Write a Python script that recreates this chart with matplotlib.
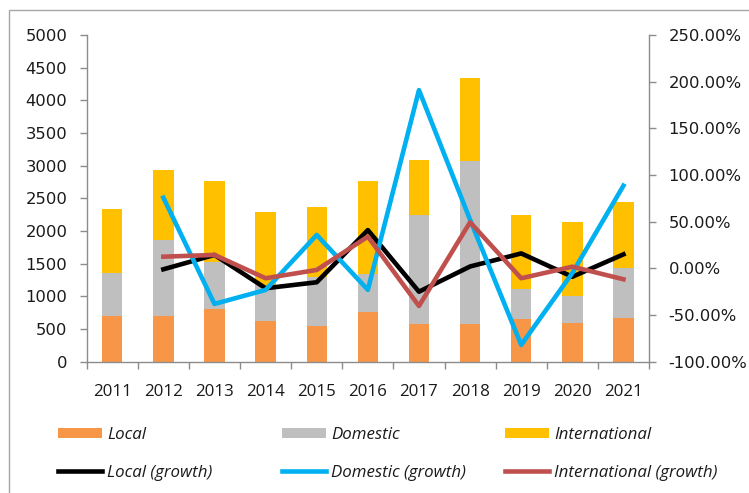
import numpy as np
import matplotlib
matplotlib.use("Agg")
import matplotlib.pyplot as plt
from matplotlib.patches import Rectangle
from matplotlib.ticker import FuncFormatter, FixedLocator, NullFormatter

years = ["2011", "2012", "2013", "2014", "2015", "2016", "2017", "2018", "2019", "2020", "2021"]
local = [700, 700, 800, 620, 540, 760, 570, 570, 650, 590, 670]
domestic = [660, 1160, 720, 550, 750, 580, 1670, 2500, 460, 410, 770]
international = [970, 1080, 1240, 1120, 1070, 1420, 850, 1270, 1130, 1140, 1010]

# growth in %, first year has no value
local_growth = [np.nan, -1.0, 14.4, -21.3, -14.9, 41.0, -25.0, 2.0, 16.0, -9.0, 15.0]
domestic_growth = [np.nan, 75.7, -38.1, -23.1, 35.8, -23.0, 191.0, 52.0, -82.0, -5.0, 88.6]
international_growth = [np.nan, 12.5, 14.4, -10.6, -1.7, 34.0, -40.3, 49.4, -10.6, 1.8, -11.7]

C_LOCAL = "#F79646"
C_DOM = "#BFBFBF"
C_INT = "#FFC000"
C_LG = "#000000"
C_DG = "#00B0F0"
C_IG = "#C0504D"
AXC = "#8C8C8C"
TXT = "#1a1a1a"
SANS = ["Open Sans", "DejaVu Sans"]

fig = plt.figure(figsize=(7.49, 4.93), dpi=100)
ax = fig.add_axes([86.7 / 749, 131.3 / 493, (649 - 86.7) / 749, 326.7 / 493])
ax2 = ax.twinx()

x = np.arange(len(years))
loc_a = np.array(local)
dom_a = np.array(domestic)
int_a = np.array(international)
b1 = ax.bar(x, loc_a, width=0.4, color=C_LOCAL, label="Local")
b2 = ax.bar(x, dom_a, width=0.4, bottom=loc_a, color=C_DOM, label="Domestic")
b3 = ax.bar(x, int_a, width=0.4, bottom=loc_a + dom_a, color=C_INT, label="International")

l1, = ax2.plot(x, local_growth, color=C_LG, lw=3.3, label="Local (growth)")
l2, = ax2.plot(x, domestic_growth, color=C_DG, lw=3.3, label="Domestic (growth)")
l3, = ax2.plot(x, international_growth, color=C_IG, lw=3.3, label="International (growth)")

ax.set_xlim(-0.5, len(years) - 0.5)
ax.set_ylim(0, 5000)
ax.set_yticks(np.arange(0, 5001, 500))
ax2.set_ylim(-100, 250)
ax2.set_yticks(np.arange(-100, 251, 50))
ax2.yaxis.set_major_formatter(FuncFormatter(lambda v, p: f"{v:.2f}%"))

ax.set_xticks(x)
ax.set_xticklabels(years, family=SANS, fontsize=12.2, color=TXT)
ax.xaxis.set_minor_locator(FixedLocator(np.arange(-0.5, len(years), 1.0)))
ax.xaxis.set_minor_formatter(NullFormatter())
ax.tick_params(axis="x", which="major", length=0, pad=16)
ax.tick_params(axis="x", which="minor", length=5, width=1, color=AXC)
ax.tick_params(axis="y", length=5, width=1, color=AXC, pad=9, labelsize=11.8,
               labelcolor=TXT)
ax2.tick_params(axis="y", length=5, width=1, color=AXC, pad=9, labelsize=11.8,
                labelcolor=TXT)

for a in (ax, ax2):
    a.spines["top"].set_visible(False)
    for s in ("left", "right", "bottom"):
        a.spines[s].set_color(AXC)
        a.spines[s].set_linewidth(1)
ax.spines["right"].set_visible(False)
ax2.spines["left"].set_visible(False)
ax2.spines["bottom"].set_visible(False)

# chart border (only top and left visible in the crop)
fig.add_artist(Rectangle((9 / 749, -0.2), 1.2, 1.2 - 10 / 493, transform=fig.transFigure,
                         fill=False, edgecolor="#A6A6A6", lw=1))

cols = [([b1, l1], ["Local", "Local (growth)"], 58),
        ([b2, l2], ["Domestic", "Domestic (growth)"], 282),
        ([b3, l3], ["International", "International (growth)"], 505)]
for handles, labels, xpx in cols:
    leg = fig.legend(handles, labels, loc="upper left",
                     bbox_to_anchor=(xpx / 749, 1 - 427 / 493),
                     frameon=False, borderpad=0, borderaxespad=0,
                     handlelength=2.6, handleheight=0.6, handletextpad=0.28,
                     labelspacing=1.28,
                     prop={"family": SANS, "style": "italic", "size": 12.2})
    for t in leg.get_texts():
        t.set_color(TXT)

fig.savefig("out.png", dpi=100)
